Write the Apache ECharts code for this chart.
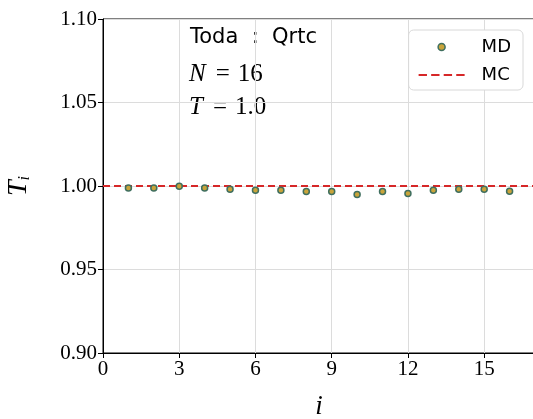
<!DOCTYPE html>
<html>
<head>
<meta charset="utf-8">
<script src="https://cdn.jsdelivr.net/npm/echarts@6/dist/echarts.min.js"></script>
<style>
  html, body { margin: 0; padding: 0; background: #fff; }
  #main { width: 533px; height: 419px; }
</style>
</head>
<body>
<div id="main"></div>
<script>
// 数据
var siteIndex = [1, 2, 3, 4, 5, 6, 7, 8, 9, 10, 11, 12, 13, 14, 15, 16];
var mdValues = [0.9988, 0.9988, 0.9998, 0.9988, 0.9981, 0.9975, 0.9975, 0.9967, 0.9967,
                0.9949, 0.9967, 0.9955, 0.9975, 0.9981, 0.9981, 0.9969];
var mcValue = 1.0;
var xRange = [0, 17];
var yRange = [0.90, 1.10];

var chart = echarts.init(document.getElementById('main'));

var mdData = siteIndex.map(function (x, k) { return [x, mdValues[k]]; });
var mcData = xRange.map(function (x) { return [x, mcValue]; });

var serif = 'Liberation Serif';
var mathRich = {
    i: { fontFamily: serif, fontStyle: 'italic', fontSize: 25, fill: '#000' },
    e: { fontFamily: serif, fontSize: 25, fill: '#000', padding: [0, 8, 0, 10] },
    r: { fontFamily: serif, fontSize: 25, fill: '#000' }
};
// 图例里的虚线
var dashIcon = 'path://M0,0h8v2h-8z M12,0h8v2h-8z M24,0h8v2h-8z M36,0h8v2h-8z';

chart.setOption({
    animation: false,
    grid: {
        left: 103,
        top: 19,
        right: -2,
        bottom: 66,
        outerBoundsMode: 'none',
        containLabel: false,
        show: true,
        borderColor: '#000',
        borderWidth: 1
    },
    xAxis: {
        type: 'value',
        min: xRange[0],
        max: xRange[1],
        interval: 3,
        name: 'i',
        nameLocation: 'middle',
        nameGap: 40,
        nameTextStyle: { fontFamily: serif, fontStyle: 'italic', fontSize: 27, color: '#000' },
        axisLine: { lineStyle: { color: '#000', width: 1 } },
        axisTick: { show: true, length: 5, lineStyle: { color: '#000' } },
        axisLabel: {
            fontFamily: serif, fontSize: 21, color: '#000', margin: 6,
            showMaxLabel: false
        },
        splitLine: { show: true, lineStyle: { color: '#dcdcdc', width: 1 } }
    },
    yAxis: {
        type: 'value',
        min: yRange[0],
        max: yRange[1],
        interval: 0.05,
        name: '{t|T}{s|i}',
        nameLocation: 'middle',
        nameGap: 70,
        nameRotate: 90,
        nameTextStyle: {
            rich: {
                t: { fontFamily: serif, fontStyle: 'italic', fontSize: 28, color: '#000' },
                s: { fontFamily: serif, fontStyle: 'italic', fontSize: 16, color: '#000', padding: [12, 0, 0, 0] }
            }
        },
        axisLine: { show: true, lineStyle: { color: '#000', width: 1 } },
        axisTick: { show: true, length: 5, lineStyle: { color: '#000' } },
        axisLabel: {
            fontFamily: serif, fontSize: 21, color: '#000', margin: 6,
            formatter: function (v) { return v.toFixed(2); }
        },
        splitLine: { show: true, lineStyle: { color: '#dcdcdc', width: 1 } }
    },
    legend: {
        orient: 'vertical',
        right: 10,
        top: 30,
        padding: [8, 12, 6, 10],
        itemGap: 10,
        itemWidth: 46,
        itemHeight: 7,
        symbolKeepAspect: true,
        backgroundColor: '#fff',
        borderColor: '#d8d8d8',
        borderWidth: 1,
        borderRadius: 5,
        textStyle: { fontFamily: 'DejaVu Sans', fontSize: 18, color: '#000', padding: [0, 0, 0, 12] },
        data: [
            { name: 'MD', icon: 'circle', itemStyle: { color: '#c9a43a', borderColor: '#3f6f5f', borderWidth: 1.5 } },
            { name: 'MC', icon: dashIcon, itemStyle: { color: '#d62728', borderWidth: 0 } }
        ]
    },
    graphic: [
        {
            type: 'text', left: 190, top: 27,
            style: { text: 'Toda  :  Qrtc', fontFamily: 'DejaVu Sans', fontSize: 21, fill: '#000' }
        },
        {
            type: 'text', left: 189, top: 62,
            style: { text: '{i|N}{e|=}{r|16}', rich: mathRich }
        },
        {
            type: 'text', left: 189, top: 95,
            style: { text: '{i|T}{e|=}{r|1.0}', rich: mathRich }
        }
    ],
    series: [{
        name: 'MC',
        type: 'line',
        data: mcData,
        symbol: 'none',
        z: 2,
        lineStyle: { color: '#d62728', width: 2, type: [7, 4] },
        itemStyle: { color: '#d62728' }
    }, {
        name: 'MD',
        type: 'scatter',
        data: mdData,
        symbol: 'circle',
        symbolSize: 6,
        z: 3,
        itemStyle: { color: '#c9a43a', borderColor: '#3f6f5f', borderWidth: 1.5, opacity: 1 }
    }]
});
</script>
</body>
</html>
